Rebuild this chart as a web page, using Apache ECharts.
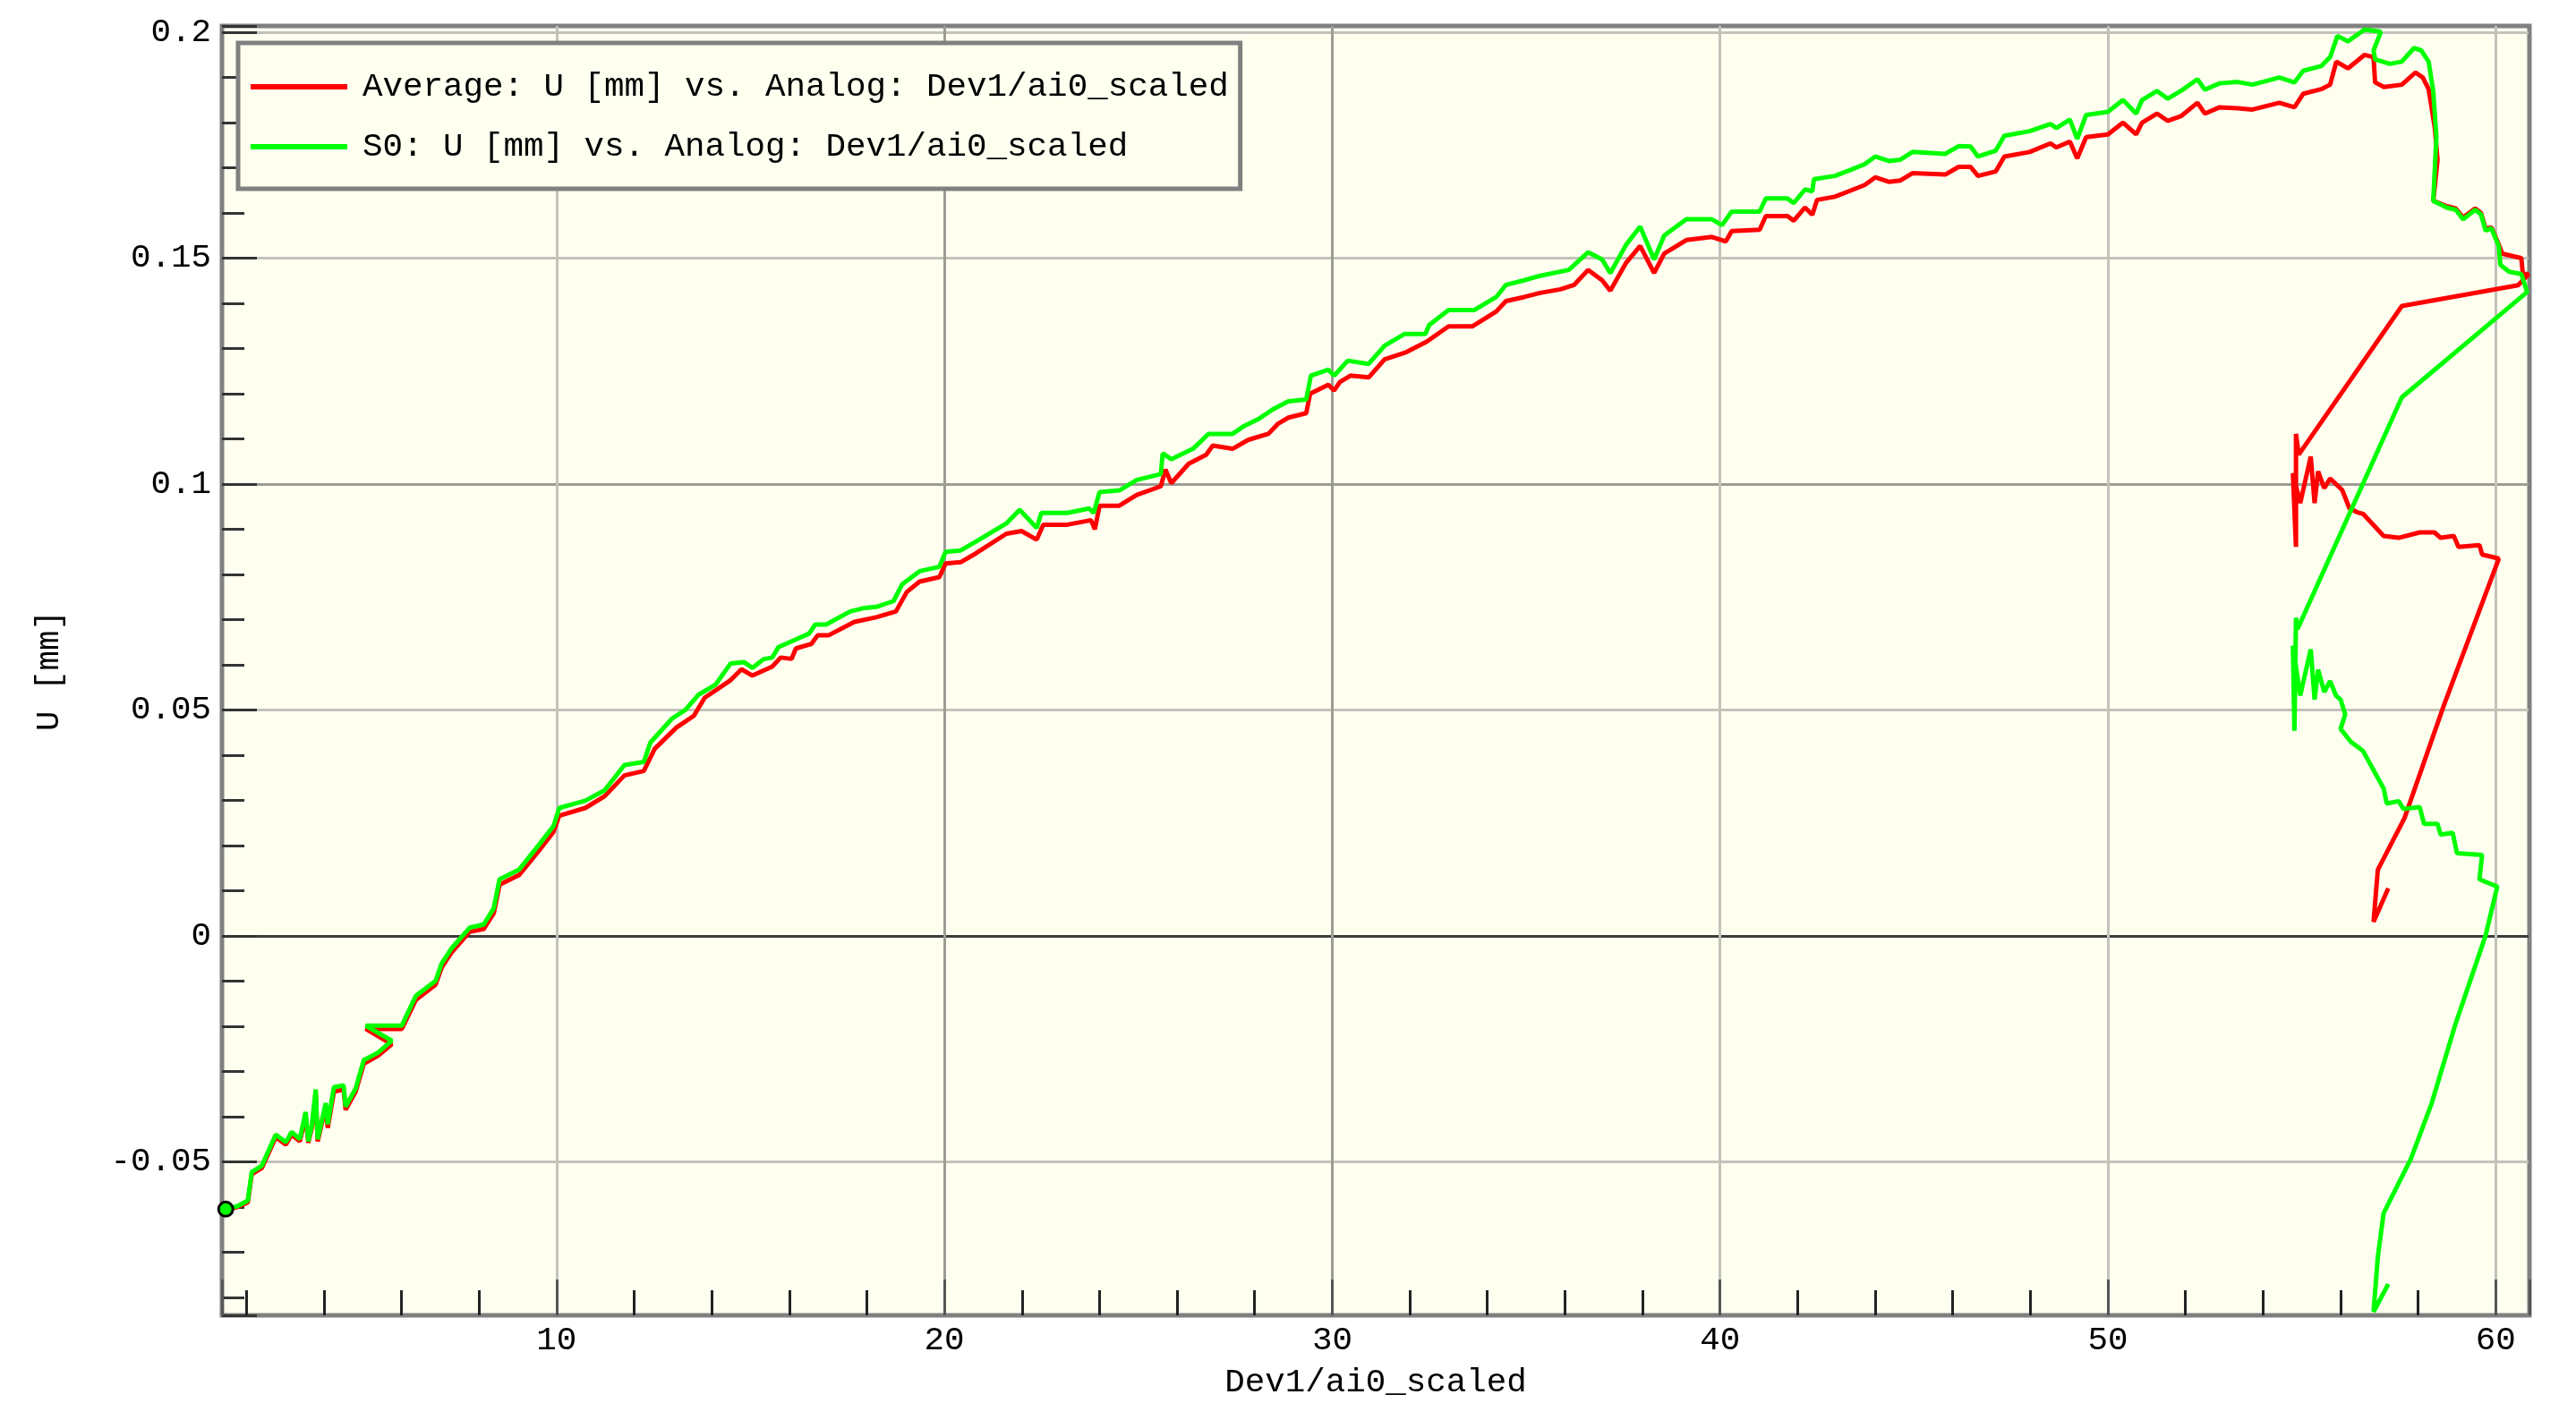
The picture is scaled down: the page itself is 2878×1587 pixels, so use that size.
<!DOCTYPE html>
<html>
<head>
<meta charset="utf-8">
<title>U [mm] vs Dev1/ai0_scaled</title>
<script src="https://cdn.jsdelivr.net/npm/echarts@6/dist/echarts.min.js"></script>
<style>
  html, body { margin: 0; padding: 0; background: #ffffff; }
  #chart { width: 2878px; height: 1587px; }
</style>
</head>
<body>
<div id="chart"></div>
<script>
// axis ranges and labelled ticks
const xRange = [1.373, 60.87];
const yRange = [-0.084, 0.2014];
const xTicks = [10, 20, 30, 40, 50, 60];
const yTicks = [-0.05, 0, 0.05, 0.1, 0.15, 0.2];

const averageName = 'Average: U [mm] vs. Analog: Dev1/ai0_scaled';
const s0Name = 'S0: U [mm] vs. Analog: Dev1/ai0_scaled';

// [Dev1/ai0_scaled, U mm], in drawing order
const averageData = [
  [1.47,-0.0607],[1.78,-0.0600],[2.04,-0.0590],[2.14,-0.0528],[2.40,-0.0514],[2.76,-0.0446],[3.02,-0.0462],[3.17,-0.0440],
  [3.38,-0.0455],[3.53,-0.0400],[3.60,-0.0458],[3.69,-0.0425],[3.79,-0.0350],[3.84,-0.0455],[4.05,-0.0378],[4.10,-0.0425],
  [4.26,-0.0345],[4.51,-0.0340],[4.56,-0.0385],[4.82,-0.0345],[5.03,-0.0283],[5.39,-0.0266],[5.75,-0.0240],[5.08,-0.0206],
  [6.01,-0.0206],[6.37,-0.0142],[6.88,-0.0108],[7.04,-0.0070],[7.29,-0.0037],[7.76,0.0009],[8.12,0.0015],[8.38,0.0050],
  [8.53,0.0113],[9.04,0.0135],[9.56,0.0190],[9.92,0.0230],[10.07,0.0266],[10.74,0.0283],[11.24,0.0309],[11.75,0.0355],
  [12.25,0.0365],[12.53,0.0414],[13.09,0.0461],[13.54,0.0487],[13.82,0.0527],[14.49,0.0566],[14.77,0.0590],[15.05,0.0576],
  [15.56,0.0596],[15.78,0.0616],[16.06,0.0613],[16.17,0.0636],[16.57,0.0646],[16.73,0.0665],[17.01,0.0665],[17.68,0.0695],
  [18.24,0.0705],[18.75,0.0718],[19.03,0.0761],[19.36,0.0784],[19.87,0.0794],[20.03,0.0824],[20.42,0.0827],[20.82,0.0847],
  [21.60,0.0890],[21.99,0.0896],[22.38,0.0877],[22.55,0.0910],[23.17,0.0910],[23.78,0.0920],[23.88,0.0900],[24.00,0.0952],
  [24.51,0.0952],[24.96,0.0976],[25.58,0.0995],[25.70,0.1032],[25.85,0.1002],[26.30,0.1045],[26.75,0.1065],[26.92,0.1085],
  [27.43,0.1078],[27.84,0.1098],[28.35,0.1111],[28.61,0.1134],[28.87,0.1147],[29.33,0.1157],[29.43,0.1200],[29.90,0.1220],
  [30.05,0.1207],[30.20,0.1226],[30.47,0.1240],[30.94,0.1236],[31.35,0.1276],[31.91,0.1292],[32.43,0.1315],[33.00,0.1349],
  [33.61,0.1349],[34.23,0.1382],[34.48,0.1405],[34.95,0.1414],[35.36,0.1423],[35.88,0.1431],[36.24,0.1441],[36.60,0.1474],
  [36.96,0.1451],[37.17,0.1428],[37.58,0.1490],[37.94,0.1527],[38.30,0.1467],[38.56,0.1510],[39.13,0.1540],[39.79,0.1547],
  [40.15,0.1537],[40.30,0.1560],[41.02,0.1563],[41.18,0.1593],[41.74,0.1593],[41.90,0.1583],[42.19,0.1612],[42.38,0.1596],
  [42.50,0.1629],[42.96,0.1636],[43.35,0.1649],[43.73,0.1662],[44.00,0.1679],[44.35,0.1669],[44.65,0.1672],[44.96,0.1688],
  [45.81,0.1685],[46.15,0.1702],[46.46,0.1702],[46.65,0.1682],[47.11,0.1692],[47.33,0.1725],[47.98,0.1735],[48.52,0.1754],
  [48.67,0.1745],[49.02,0.1758],[49.21,0.1721],[49.44,0.1768],[50.00,0.1774],[50.39,0.1800],[50.73,0.1774],[50.88,0.1800],
  [51.27,0.1820],[51.54,0.1804],[51.88,0.1814],[52.31,0.1844],[52.50,0.1820],[52.88,0.1834],[53.35,0.1832],[53.73,0.1829],
  [54.42,0.1844],[54.81,0.1834],[55.04,0.1864],[55.50,0.1874],[55.73,0.1884],[55.89,0.1935],[56.19,0.1920],[56.62,0.1950],
  [56.85,0.1945],[56.89,0.1889],[57.12,0.1879],[57.58,0.1884],[57.93,0.1911],[58.12,0.1900],[58.27,0.1874],[58.43,0.1788],
  [58.50,0.1717],[58.39,0.1627],[58.74,0.1615],[58.97,0.1610],[59.16,0.1590],[59.47,0.1610],[59.62,0.1600],[59.74,0.1565],
  [59.89,0.1568],[60.08,0.1530],[60.17,0.1510],[60.66,0.1500],[60.70,0.1465],[60.85,0.1465],[60.58,0.1440],[57.58,0.1394],
  [54.92,0.1065],[54.85,0.1111],[54.85,0.0861],[54.77,0.1024],[54.96,0.0958],[55.23,0.1061],[55.33,0.0958],[55.42,0.1028],
  [55.58,0.0991],[55.73,0.1012],[56.04,0.0987],[56.23,0.0946],[56.42,0.0938],[56.58,0.0934],[57.11,0.0885],[57.50,0.0881],
  [58.04,0.0893],[58.42,0.0893],[58.58,0.0881],[58.92,0.0885],[59.04,0.0861],[59.58,0.0865],[59.65,0.0844],[60.08,0.0835],
  [58.65,0.0507],[57.65,0.0261],[56.96,0.0146],[56.85,0.0031],[57.23,0.0105]
];

const s0Data = [
  [1.47,-0.0605],[1.78,-0.0598],[2.04,-0.0586],[2.14,-0.0523],[2.40,-0.0509],[2.76,-0.0440],[3.02,-0.0457],[3.17,-0.0434],
  [3.38,-0.0450],[3.53,-0.0390],[3.60,-0.0455],[3.69,-0.0420],[3.79,-0.0340],[3.84,-0.0450],[4.05,-0.0370],[4.10,-0.0417],
  [4.26,-0.0335],[4.51,-0.0331],[4.56,-0.0378],[4.82,-0.0338],[5.03,-0.0275],[5.39,-0.0259],[5.75,-0.0232],[5.08,-0.0199],
  [6.01,-0.0199],[6.37,-0.0133],[6.88,-0.0100],[7.04,-0.0061],[7.29,-0.0028],[7.76,0.0018],[8.12,0.0025],[8.38,0.0061],
  [8.53,0.0125],[9.04,0.0147],[9.56,0.0203],[9.92,0.0243],[10.07,0.0283],[10.74,0.0299],[11.24,0.0322],[11.75,0.0378],
  [12.25,0.0385],[12.42,0.0428],[12.98,0.0481],[13.32,0.0500],[13.65,0.0533],[14.10,0.0556],[14.49,0.0603],[14.83,0.0606],
  [15.05,0.0593],[15.33,0.0612],[15.56,0.0616],[15.72,0.0639],[16.06,0.0652],[16.51,0.0669],[16.67,0.0689],[16.95,0.0689],
  [17.57,0.0718],[17.90,0.0725],[18.24,0.0728],[18.69,0.0741],[18.91,0.0778],[19.36,0.0807],[19.87,0.0817],[20.03,0.0850],
  [20.42,0.0853],[20.82,0.0873],[21.60,0.0913],[21.94,0.0943],[22.38,0.0903],[22.50,0.0936],[23.17,0.0936],[23.73,0.0946],
  [23.85,0.0936],[24.00,0.0982],[24.51,0.0986],[24.96,0.1009],[25.58,0.1022],[25.63,0.1068],[25.85,0.1055],[26.41,0.1078],
  [26.81,0.1111],[27.43,0.1111],[27.70,0.1127],[28.10,0.1144],[28.50,0.1167],[28.87,0.1183],[29.33,0.1187],[29.45,0.1240],
  [29.90,0.1253],[30.05,0.1240],[30.40,0.1273],[30.94,0.1266],[31.35,0.1306],[31.86,0.1332],[32.40,0.1332],[32.50,0.1352],
  [33.00,0.1385],[33.66,0.1385],[34.23,0.1414],[34.48,0.1441],[34.95,0.1451],[35.36,0.1461],[36.10,0.1474],[36.60,0.1513],
  [36.96,0.1497],[37.17,0.1467],[37.58,0.1530],[37.94,0.1570],[38.30,0.1497],[38.56,0.1550],[39.13,0.1586],[39.79,0.1586],
  [40.05,0.1573],[40.30,0.1603],[41.02,0.1603],[41.18,0.1632],[41.74,0.1632],[41.90,0.1622],[42.19,0.1652],[42.38,0.1648],
  [42.42,0.1675],[42.96,0.1682],[43.35,0.1695],[43.73,0.1708],[44.00,0.1725],[44.35,0.1715],[44.65,0.1718],[44.96,0.1735],
  [45.81,0.1731],[46.15,0.1748],[46.46,0.1747],[46.65,0.1725],[47.11,0.1738],[47.33,0.1771],[47.98,0.1781],[48.52,0.1797],
  [48.67,0.1788],[49.02,0.1807],[49.21,0.1764],[49.44,0.1817],[50.00,0.1824],[50.39,0.1850],[50.73,0.1820],[50.88,0.1850],
  [51.27,0.1870],[51.54,0.1853],[51.88,0.1870],[52.31,0.1896],[52.50,0.1873],[52.88,0.1887],[53.35,0.1890],[53.73,0.1884],
  [54.42,0.1900],[54.81,0.1889],[55.04,0.1915],[55.50,0.1925],[55.73,0.1945],[55.92,0.1992],[56.19,0.1980],[56.62,0.2006],
  [57.04,0.2001],[56.85,0.1960],[56.89,0.1940],[57.27,0.1930],[57.58,0.1935],[57.89,0.1965],[58.08,0.1960],[58.27,0.1935],
  [58.39,0.1869],[58.47,0.1768],[58.39,0.1627],[58.74,0.1612],[58.97,0.1607],[59.16,0.1586],[59.47,0.1607],[59.62,0.1597],
  [59.74,0.1561],[59.89,0.1566],[60.08,0.1526],[60.12,0.1485],[60.35,0.1470],[60.66,0.1465],[60.81,0.1425],[57.58,0.1192],
  [54.89,0.0679],[54.85,0.0704],[54.81,0.0454],[54.77,0.0642],[54.96,0.0532],[55.23,0.0634],[55.33,0.0523],[55.42,0.0589],
  [55.58,0.0540],[55.73,0.0564],[55.88,0.0532],[56.00,0.0523],[56.12,0.0490],[56.00,0.0458],[56.27,0.0429],[56.58,0.0409],
  [57.11,0.0326],[57.19,0.0293],[57.50,0.0298],[57.62,0.0281],[58.04,0.0285],[58.15,0.0248],[58.50,0.0248],[58.58,0.0224],
  [58.89,0.0228],[59.00,0.0183],[59.65,0.0179],[59.58,0.0125],[60.04,0.0109],[59.74,0.0001],[58.96,-0.0196],[58.34,-0.0373],
  [57.81,-0.0494],[57.11,-0.0614],[56.96,-0.0711],[56.85,-0.0832],[57.23,-0.0771]
];

const FONT = '"Liberation Mono", "DejaVu Sans Mono", monospace';
const PLOT_BG = '#fffff0';
const FRAME = '#808080';
const LIGHT = '#c2c2ba';
const MID = '#9c9c94';
const ZERO = '#3c3c3c';

const onTick = (list, v) => list.some((t) => Math.abs(t - v) < 1e-7);

const chart = echarts.init(document.getElementById('chart'));

chart.setOption({
  animation: false,
  backgroundColor: '#ffffff',
  grid: {
    left: 248, right: 52, top: 29, bottom: 117,
    show: true,
    backgroundColor: PLOT_BG,
    borderColor: FRAME,
    borderWidth: 5,
    containLabel: false,
    outerBoundsMode: 'none'
  },
  legend: {
    orient: 'vertical',
    left: 266,
    top: 48,
    padding: [29, 13, 27, 14],
    itemWidth: 108,
    itemHeight: 6,
    itemGap: 27,
    icon: 'rect',
    selectedMode: false,
    backgroundColor: PLOT_BG,
    borderColor: FRAME,
    borderWidth: 5,
    textStyle: { fontFamily: FONT, fontSize: 37.5, lineHeight: 40, color: '#000', padding: [0, 0, 0, 12] },
    data: [averageName, s0Name]
  },
  xAxis: {
    type: 'value',
    min: xRange[0],
    max: xRange[1],
    splitNumber: 6,
    name: 'Dev1/ai0_scaled',
    nameLocation: 'middle',
    nameGap: 55,
    nameTextStyle: { fontFamily: FONT, fontSize: 37.5, lineHeight: 40, color: '#000' },
    axisLine: { show: false, onZero: false },
    axisTick: { show: true, inside: true, length: 40, lineStyle: { color: '#555', width: 3 } },
    minorTick: { show: true, splitNumber: 5, length: 28, lineStyle: { color: '#222', width: 3 } },
    axisLabel: {
      margin: 8, fontFamily: FONT, fontSize: 37.5, lineHeight: 40, color: '#000',
      formatter: (v) => (onTick(xTicks, v) ? String(Math.round(v)) : '')
    },
    splitLine: {
      show: true,
      // edge, 10, 20, 30, 40, 50, 60, edge
      lineStyle: { color: [FRAME, LIGHT, MID, MID, LIGHT, LIGHT, LIGHT, FRAME], width: 3 }
    }
  },
  yAxis: {
    type: 'value',
    min: yRange[0],
    max: yRange[1],
    splitNumber: 6,
    name: 'U [mm]',
    nameLocation: 'middle',
    nameGap: 173,
    nameRotate: 90,
    nameTextStyle: { fontFamily: FONT, fontSize: 37.5, lineHeight: 40, color: '#000' },
    axisLine: { show: false, onZero: false },
    axisTick: { show: true, inside: true, length: 39, lineStyle: { color: '#333', width: 3 } },
    minorTick: { show: true, splitNumber: 5, length: 25, lineStyle: { color: '#333', width: 3 } },
    axisLabel: {
      margin: 12, fontFamily: FONT, fontSize: 37.5, lineHeight: 40, color: '#000',
      formatter: (v) => (onTick(yTicks, v) ? String(+v.toFixed(3)) : '')
    },
    splitLine: {
      show: true,
      // edge, -0.05, 0, 0.05, 0.1, 0.15, 0.2, edge
      lineStyle: { color: [FRAME, LIGHT, ZERO, LIGHT, MID, LIGHT, LIGHT, FRAME], width: 3 }
    }
  },
  series: [
    {
      name: averageName,
      type: 'line',
      data: averageData,
      symbol: 'none',
      silent: true,
      lineStyle: { color: '#ff0000', width: 5 },
      itemStyle: { color: '#ff0000' },
      z: 3
    },
    {
      name: s0Name,
      type: 'line',
      // start point is marked with a dot
      data: s0Data.map((p, i) => (i === 0 ? {
        value: p,
        symbol: 'circle',
        symbolSize: 16,
        itemStyle: { color: '#00ff00', borderColor: '#000', borderWidth: 3 }
      } : p)),
      symbol: 'none',
      silent: true,
      lineStyle: { color: '#00ff00', width: 5 },
      itemStyle: { color: '#00ff00' },
      z: 4
    }
  ]
});
</script>
</body>
</html>
